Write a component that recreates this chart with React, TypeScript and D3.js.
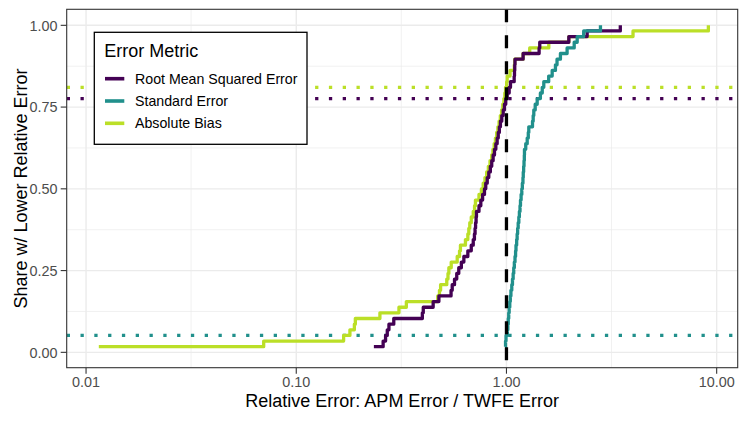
import React from "react";
import * as d3 from "d3";

// sorted relative errors (APM / TWFE), one per simulation
const rmseErrors = [
  0.234, 0.259, 0.266, 0.271, 0.276, 0.291, 0.398, 0.402, 0.448, 0.477,
  0.545, 0.552, 0.566, 0.58, 0.593, 0.61, 0.627, 0.655, 0.68, 0.695,
  0.704, 0.709, 0.713, 0.717, 0.72, 0.74, 0.755, 0.77, 0.786, 0.797,
  0.81, 0.824, 0.838, 0.851, 0.864, 0.877, 0.89, 0.903, 0.914, 0.925,
  0.936, 0.95, 0.965, 0.978, 0.992, 1.008, 1.03, 1.045, 1.088, 1.092,
  1.095, 1.098, 1.2, 1.43, 1.44, 1.98, 2.42, 3.48,
];

const seErrors = [
  0.986, 0.99, 0.995, 1.01, 1.015, 1.02, 1.025, 1.03, 1.037, 1.043,
  1.05, 1.06, 1.068, 1.076, 1.083, 1.09, 1.098, 1.105, 1.11, 1.118,
  1.124, 1.13, 1.137, 1.145, 1.152, 1.16, 1.166, 1.174, 1.183, 1.19,
  1.198, 1.202, 1.207, 1.212, 1.216, 1.218, 1.235, 1.255, 1.27, 1.277,
  1.33, 1.34, 1.349, 1.37, 1.4, 1.45, 1.48, 1.505, 1.588, 1.65,
  1.71, 1.74, 1.806, 1.943, 2.1, 2.17, 2.33, 2.8,
];

const biasErrors = [
  0.0115, 0.07, 0.168, 0.18, 0.189, 0.191, 0.25, 0.308, 0.334, 0.471,
  0.48, 0.486, 0.52, 0.527, 0.532, 0.546, 0.583, 0.598, 0.604, 0.638,
  0.655, 0.662, 0.669, 0.68, 0.695, 0.705, 0.712, 0.74, 0.76, 0.775,
  0.79, 0.805, 0.82, 0.835, 0.85, 0.862, 0.874, 0.886, 0.898, 0.91,
  0.922, 0.935, 0.948, 0.96, 0.972, 0.982, 0.99, 1.002, 1.008, 1.04,
  1.09, 1.095, 1.2, 1.29, 1.59, 1.98, 4.0, 9.13,
];

const metrics = [
  { key: "rmse", label: "Root Mean Squared Error", color: "#440154", values: rmseErrors },
  { key: "se", label: "Standard Error", color: "#21908C", values: seErrors },
  { key: "bias", label: "Absolute Bias", color: "#BBDF27", values: biasErrors },
];
// ggplot draws groups alphabetically
const drawOrder = ["bias", "rmse", "se"];

const xTicks = [0.01, 0.1, 1, 10];
const xMinor = [0.0316, 0.316, 3.16];
const yTicks = [0, 0.25, 0.5, 0.75, 1];
const yMinor = [0.125, 0.375, 0.625, 0.875];

const W = 747;
const H = 421;
const panel = { left: 66.7, right: 737.7, top: 9.3, bottom: 367.7 };
const font = "'Liberation Sans', Arial, Helvetica, sans-serif";

const App = () => {
  const x = d3
    .scaleLog()
    .domain([0.00809, 12.59])
    .range([panel.left, panel.right]);
  const y = d3
    .scaleLinear()
    .domain([-0.047, 1.049])
    .range([panel.bottom, panel.top]);

  const line = d3
    .line<[number, number]>()
    .x((d) => x(d[0]))
    .y((d) => y(d[1]))
    .curve(d3.curveStepAfter);

  const ecdf = (vals: number[]) => {
    const sorted = [...vals].sort((a, b) => a - b);
    return sorted.map((v, i) => [v, (i + 1) / sorted.length] as [number, number]);
  };

  const shareBelow = (vals: number[]) => d3.mean(vals, (v) => (v < 1 ? 1 : 0)) ?? 0;

  const ordered = drawOrder.map((k) => metrics.find((m) => m.key === k)!);

  return (
    <svg
      width={W}
      height={H}
      style={{ position: "absolute", left: 0, top: 0, fontFamily: font }}
    >
      <rect width={W} height={H} fill="white" />
      <defs>
        <clipPath id="panel-clip">
          <rect
            x={panel.left}
            y={panel.top}
            width={panel.right - panel.left}
            height={panel.bottom - panel.top}
          />
        </clipPath>
      </defs>

      {/* grid */}
      <g>
        {xMinor.map((t) => (
          <line key={"xm" + t} x1={x(t)} x2={x(t)} y1={panel.top} y2={panel.bottom} stroke="#EBEBEB" strokeWidth={0.7} />
        ))}
        {yMinor.map((t) => (
          <line key={"ym" + t} x1={panel.left} x2={panel.right} y1={y(t)} y2={y(t)} stroke="#EBEBEB" strokeWidth={0.7} />
        ))}
        {xTicks.map((t) => (
          <line key={"xg" + t} x1={x(t)} x2={x(t)} y1={panel.top} y2={panel.bottom} stroke="#EBEBEB" strokeWidth={1.4} />
        ))}
        {yTicks.map((t) => (
          <line key={"yg" + t} x1={panel.left} x2={panel.right} y1={y(t)} y2={y(t)} stroke="#EBEBEB" strokeWidth={1.4} />
        ))}
      </g>

      <g clipPath="url(#panel-clip)">
        {/* share of simulations where APM beats TWFE */}
        {metrics.map((m) => (
          <line
            key={"h" + m.key}
            x1={panel.left}
            x2={panel.right}
            y1={y(shareBelow(m.values))}
            y2={y(shareBelow(m.values))}
            stroke={m.color}
            strokeWidth={3.3}
            strokeDasharray="3.3 10.5"
          />
        ))}
        {ordered.map((m) => (
          <path
            key={m.key}
            d={line(ecdf(m.values)) ?? ""}
            fill="none"
            stroke={m.color}
            strokeWidth={3.3}
            strokeLinejoin="round"
          />
        ))}
        <line
          x1={x(1)}
          x2={x(1)}
          y1={panel.top}
          y2={panel.bottom}
          stroke="black"
          strokeWidth={3.3}
          strokeDasharray="13 13"
        />
      </g>

      <rect
        x={panel.left}
        y={panel.top}
        width={panel.right - panel.left}
        height={panel.bottom - panel.top}
        fill="none"
        stroke="#333333"
        strokeWidth={1.1}
      />

      {/* axes */}
      {xTicks.map((t) => (
        <g key={"xt" + t}>
          <line x1={x(t)} x2={x(t)} y1={panel.bottom} y2={panel.bottom + 6} stroke="#333333" strokeWidth={1.1} />
          <text x={x(t)} y={387} textAnchor="middle" fontSize={14.4} fill="#4D4D4D">
            {d3.format(".2f")(t)}
          </text>
        </g>
      ))}
      {yTicks.map((t) => (
        <g key={"yt" + t}>
          <line x1={panel.left - 6} x2={panel.left} y1={y(t)} y2={y(t)} stroke="#333333" strokeWidth={1.1} />
          <text x={57.5} y={y(t)} dy="0.36em" textAnchor="end" fontSize={14.4} fill="#4D4D4D">
            {d3.format(".2f")(t)}
          </text>
        </g>
      ))}
      <text x={(panel.left + panel.right) / 2} y={407} textAnchor="middle" fontSize={18} fill="black">
        Relative Error: APM Error / TWFE Error
      </text>
      <text
        transform={`translate(26.5,${(panel.top + panel.bottom) / 2}) rotate(-90)`}
        textAnchor="middle"
        fontSize={18}
        fill="black"
      >
        Share w/ Lower Relative Error
      </text>

      {/* legend */}
      <g>
        <rect x={94.3} y={32.3} width={212.7} height={112} fill="white" stroke="black" strokeWidth={1.3} />
        <text x={104.3} y={56.7} fontSize={18} fill="black">
          Error Metric
        </text>
        {metrics.map((m, i) => {
          const ky = 78.7 + i * 22.3;
          return (
            <g key={"lg" + m.key}>
              <line x1={105} x2={124.3} y1={ky} y2={ky} stroke={m.color} strokeWidth={3.6} />
              <text x={135} y={ky} dy="0.36em" fontSize={14.2} fill="black">
                {m.label}
              </text>
            </g>
          );
        })}
      </g>
    </svg>
  );
};

export default App;
